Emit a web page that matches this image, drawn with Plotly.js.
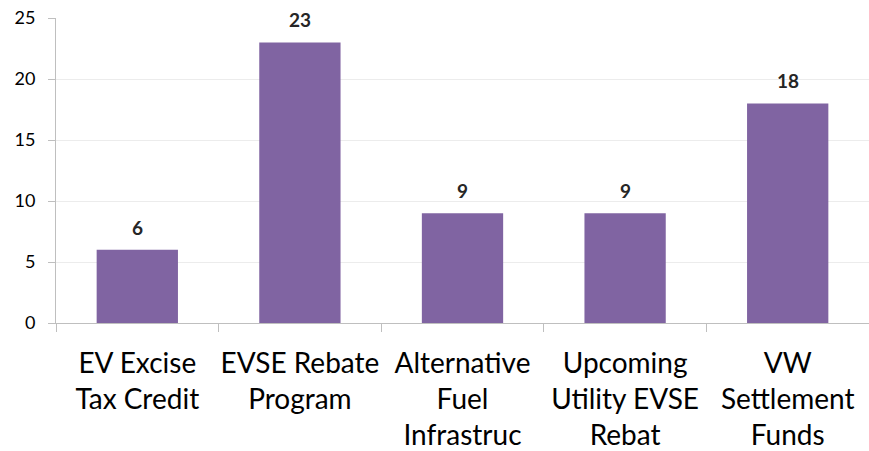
<!DOCTYPE html>
<html><head><meta charset="utf-8">
<script src="https://cdn.plot.ly/plotly-3.0.1.min.js"></script>
<style>html,body{margin:0;padding:0;background:#fff}#chart{width:869px;height:451px}</style>
</head><body><div id="chart"></div>
<script>
const categories = ["EV Excise<br>Tax Credit","EVSE Rebate<br>Program","Alternative<br>Fuel<br>Infrastruc","Upcoming<br>Utility EVSE<br>Rebat","VW<br>Settlement<br>Funds"];
const values = [6, 23, 9, 9, 18];
const yTicks = [0, 5, 10, 15, 20, 25];

const FONT = "Lato, 'Open Sans', sans-serif";
Plotly.newPlot("chart", [{
  type: "bar",
  x: categories,
  y: values,
  marker: {color: "#8064A2"},
  width: 0.5,
  hoverinfo: "none"
}], {
  width: 869, height: 451,
  margin: {l: 56, r: 0, t: 18, b: 128},
  paper_bgcolor: "#fff", plot_bgcolor: "#fff",
  showlegend: false,
  annotations: categories.map((c, i) => ({
    x: c, y: values[i], xref: "x", yref: "y",
    text: "<b>" + values[i] + "</b>",
    showarrow: false, yanchor: "bottom", yshift: 9,
    font: {family: FONT, size: 19, color: "#262626"}
  })),
  xaxis: {
    type: "category",
    showline: true, linecolor: "#bfbfbf", linewidth: 1,
    ticks: "outside", tickson: "boundaries", ticklen: 8, tickcolor: "#bfbfbf",
    ticklabelstandoff: 15, tickangle: 0,
    tickfont: {family: FONT, size: 28, color: "#000"},
    showgrid: false, zeroline: false
  },
  yaxis: {
    range: [0, 25],
    tickvals: yTicks,
    showline: true, linecolor: "#bfbfbf", linewidth: 1,
    ticks: "outside", ticklen: 7, tickcolor: "#bfbfbf",
    ticklabelstandoff: 9,
    tickfont: {family: FONT, size: 18, color: "#000"},
    showgrid: true, gridcolor: "#ececec", gridwidth: 1,
    zeroline: false
  }
}, {staticPlot: true});
</script></body></html>
